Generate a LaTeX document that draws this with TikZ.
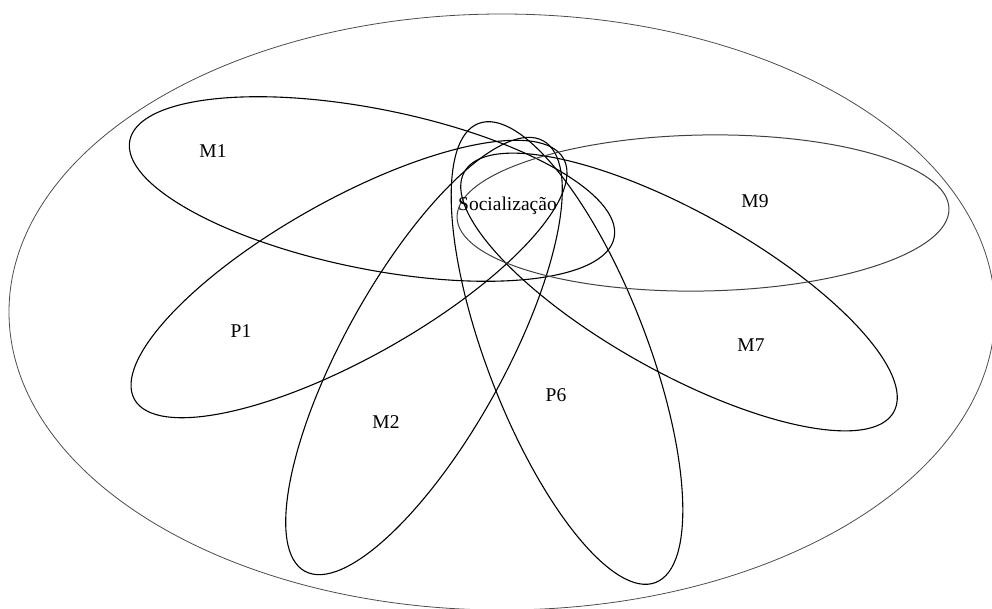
\documentclass[tikz,border=0pt]{standalone}
\usepackage{fontspec}
\setmainfont{Liberation Serif}
\begin{document}
\begin{tikzpicture}[x=1pt,y=1pt,
  petal/.style={draw=black, line width=1.1pt},
  petalgray/.style={draw=black!75, line width=1.0pt},
  outer/.style={draw=black!70, line width=0.8pt},
  lbl/.style={font=\fontsize{19.5}{22}\selectfont, anchor=base, inner sep=0pt}]
\useasboundingbox (0,0) rectangle (992,-608);
% universe
\draw[outer] (502,-312) ellipse [x radius=493pt, y radius=298pt];
% petals
\draw[petal, rotate around={-11.35:(372,-189)}] (372,-189) ellipse [x radius=247pt, y radius=80pt];
\draw[petal, rotate around={29.3:(349,-279)}] (349,-279) ellipse [x radius=246pt, y radius=79pt];
\draw[petal, rotate around={61:(424,-356)}] (424,-356) ellipse [x radius=246pt, y radius=80pt];
\draw[petal, rotate around={-68.9:(567,-353)}] (567,-353) ellipse [x radius=246pt, y radius=80pt];
\draw[petal, rotate around={-29.2:(679,-292)}] (679,-292) ellipse [x radius=246pt, y radius=80pt];
\draw[petalgray, rotate around={1:(703,-213)}] (703,-213) ellipse [x radius=246pt, y radius=78pt];
% labels
\node[lbl] (m1) at (213,-157) {M1};
\node[lbl] (p1) at (241,-337) {P1};
\node[lbl] (m2) at (386,-428) {M2};
\node[lbl] (p6) at (556,-401) {P6};
\node[lbl] (m7) at (751,-351) {M7};
\node[lbl] (m9) at (755,-207) {M9};
\node[lbl] (soc) at (507.5,-210) {Socialização};
\end{tikzpicture}
\end{document}
